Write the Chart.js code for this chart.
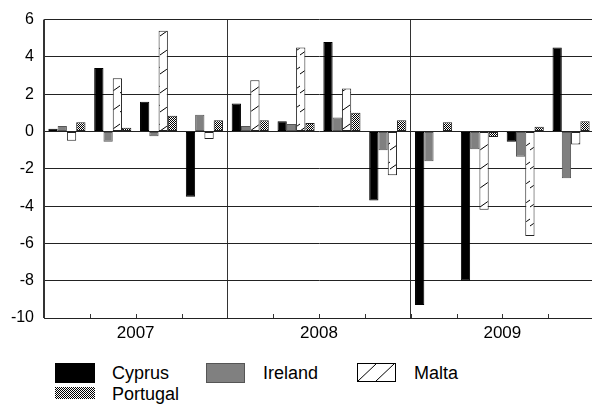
<!DOCTYPE html>
<html>
<head>
<meta charset="utf-8">
<script src="https://cdn.jsdelivr.net/npm/chart.js@4.4.0/dist/chart.umd.min.js"></script>
<style>
  html, body { margin: 0; padding: 0; background: #fff; overflow: hidden; width: 592px; height: 412px; }
  #wrap { position: absolute; left: 0; top: 0; width: 600px; height: 345px; }
  .item { position: absolute; font-family: "Liberation Sans", Arial, sans-serif; font-size: 18px; line-height: 20px; color: #000; white-space: nowrap; }
  .sw { position: absolute; display: block; }
</style>
</head>
<body>
<div id="wrap"><canvas id="c"></canvas></div>
<div id="legend"></div>
<script>
// ---- data ----
const quarters = ['2007 Q1','2007 Q2','2007 Q3','2007 Q4','2008 Q1','2008 Q2','2008 Q3','2008 Q4','2009 Q1','2009 Q2','2009 Q3','2009 Q4'];
const years = ['2007','2008','2009'];
const seriesNames = ['Cyprus','Ireland','Malta','Portugal'];
const cyprus   = [0.15, 3.4, 1.6, -3.5, 1.5, 0.55, 4.8, -3.7, -9.3, -8.0, -0.55, 4.5];
const ireland  = [0.3, -0.55, -0.25, 0.9, 0.3, 0.4, 0.75, -1.0, -1.6, -0.95, -1.35, -2.5];
const malta    = [-0.5, 2.85, 5.4, -0.4, 2.75, 4.5, 2.3, -2.35, 0, -4.2, -5.6, -0.7];
const portugal = [0.5, 0.2, 0.85, 0.6, 0.6, 0.45, 1.0, 0.6, 0.5, -0.3, 0.25, 0.55];
const yTicks = [6, 4, 2, 0, -2, -4, -6, -8, -10];

// ---- patterns ----
function makeHatch() {
  const t = document.createElement('canvas');
  t.width = 10; t.height = 19;
  const g = t.getContext('2d');
  g.fillStyle = '#fff'; g.fillRect(0, 0, 10, 19);
  g.strokeStyle = '#000'; g.lineWidth = 1;
  g.beginPath(); g.moveTo(0, 17); g.lineTo(10, 10); g.stroke();
  return g.createPattern(t, 'repeat');
}
function makeCross(g) {
  const t = document.createElement('canvas');
  t.width = 2; t.height = 2;
  const tg = t.getContext('2d');
  tg.fillStyle = '#fff'; tg.fillRect(0, 0, 2, 2);
  tg.fillStyle = '#000'; tg.fillRect(0, 0, 1, 1); tg.fillRect(1, 1, 1, 1);
  return (g || tg).createPattern(t, 'repeat');
}
const hatch = makeHatch();
const cross = makeCross();

const ds = (label, data, bg, border) => ({
  label, data, backgroundColor: bg, borderColor: border, borderWidth: 1,
  borderSkipped: false, categoryPercentage: 0.81, barPercentage: 1.0,
  xAxisID: 'x', yAxisID: 'y'
});

const quarterTicks = {
  id: 'quarterTicks',
  afterDraw(chart) {
    const xs = chart.scales.x, ca = chart.chartArea, ctx = chart.ctx;
    ctx.save();
    ctx.strokeStyle = '#333'; ctx.lineWidth = 1;
    for (let i = 1; i < quarters.length; i++) {
      const px = Math.round((xs.getPixelForValue(i - 1) + xs.getPixelForValue(i)) / 2) + 0.5;
      ctx.beginPath(); ctx.moveTo(px, ca.bottom - 4); ctx.lineTo(px, ca.bottom); ctx.stroke();
    }
    ctx.restore();
  }
};

new Chart(document.getElementById('c'), {
  type: 'bar',
  data: {
    labels: quarters,
    datasets: [
      ds(seriesNames[0], cyprus, '#000', '#000'),
      ds(seriesNames[1], ireland, '#808080', '#555'),
      ds(seriesNames[2], malta, hatch, '#222'),
      ds(seriesNames[3], portugal, cross, '#222')
    ]
  },
  options: {
    responsive: true, maintainAspectRatio: false, animation: false,
    layout: { padding: { top: 15, right: 6, left: 0, bottom: 0 } },
    plugins: { legend: { display: false }, tooltip: { enabled: false } },
    scales: {
      x: { type: 'category', display: false, offset: true },
      x2: {
        type: 'category', axis: 'x', position: 'bottom', labels: years, offset: true,
        grid: { offset: true, color: '#333', lineWidth: 1, drawTicks: false },
        border: { display: true, color: '#222', width: 1 },
        ticks: { color: '#000', padding: 5, font: { family: 'Liberation Sans', size: 17 } },
        afterFit(s) { s.height = 27; }
      },
      y: {
        min: -10, max: 6,
        afterBuildTicks(s) { s.ticks = yTicks.map(v => ({ value: v })); },
        grid: { color: '#222', lineWidth: 1, drawTicks: false },
        border: { display: true, color: '#333', width: 1 },
        ticks: { color: '#000', padding: 10, font: { family: 'Liberation Sans', size: 16 } },
        afterFit(s) { s.width = 44; }
      }
    }
  },
  plugins: [quarterTicks]
});

// ---- HTML legend ----
const legendItems = [
  { name: seriesNames[0], x: 55, y: 363, w: 40, h: 20, draw: g => { g.fillStyle = '#000'; g.fillRect(0, 0, 40, 20); } },
  { name: seriesNames[1], x: 206, y: 363, w: 39, h: 20, draw: g => { g.fillStyle = '#555'; g.fillRect(0, 0, 39, 20); g.fillStyle = '#808080'; g.fillRect(1, 1, 37, 18); } },
  { name: seriesNames[2], x: 357, y: 363, w: 39, h: 19, draw: g => {
      g.fillStyle = '#fff'; g.fillRect(0, 0, 39, 19);
      g.strokeStyle = '#000'; g.lineWidth = 1; g.strokeRect(0.5, 0.5, 38, 18);
      g.beginPath(); g.moveTo(1, 18); g.lineTo(19, 1); g.moveTo(19, 18); g.lineTo(37, 1); g.stroke();
    } },
  { name: seriesNames[3], x: 55, y: 387, w: 40, h: 12, draw: g => { g.fillStyle = makeCross(g); g.fillRect(0, 0, 40, 12); } }
];
const legend = document.getElementById('legend');
const textTops = [363, 363, 363, 384];
legendItems.forEach((it, i) => {
  const cv = document.createElement('canvas');
  cv.width = it.w; cv.height = it.h; cv.className = 'sw';
  cv.style.left = it.x + 'px'; cv.style.top = it.y + 'px';
  it.draw(cv.getContext('2d'));
  legend.appendChild(cv);
  const t = document.createElement('div');
  t.className = 'item'; t.textContent = it.name;
  t.style.left = (it.x + 57) + 'px'; t.style.top = textTops[i] + 'px';
  legend.appendChild(t);
});
</script>
</body>
</html>
